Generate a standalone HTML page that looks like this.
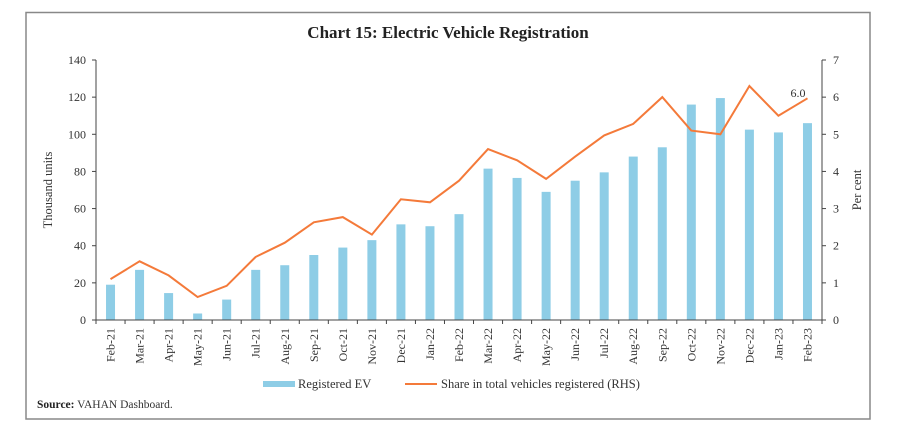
<!DOCTYPE html>
<html><head><meta charset="utf-8"><style>
body{margin:0;background:#fff;width:905px;height:439px;overflow:hidden}
svg text{font-family:"Liberation Serif",serif;fill:#333}
</style></head><body>
<svg id="s" width="905" height="439" xmlns="http://www.w3.org/2000/svg">
<rect x="26" y="12.5" width="844" height="406.5" fill="#fff" stroke="#888" stroke-width="1.5"/>
<text x="448" y="38" text-anchor="middle" font-size="17" font-weight="bold" style="fill:#222">Chart 15: Electric Vehicle Registration</text>
<text transform="translate(52,190) rotate(-90)" text-anchor="middle" font-size="12.5">Thousand units</text>
<text transform="translate(861,190) rotate(-90)" text-anchor="middle" font-size="12.5">Per cent</text>
<g id="g"></g>
<rect x="263" y="381" width="32" height="6" fill="#8ecde6"/>
<text x="298" y="388" font-size="12.5">Registered EV</text>
<line x1="405" y1="384" x2="437" y2="384" stroke="#f47a3a" stroke-width="2"/>
<text x="441" y="388" font-size="12.5">Share in total vehicles registered (RHS)</text>
<text x="37" y="408" font-size="11.5"><tspan font-weight="bold" style="fill:#222">Source:</tspan> VAHAN Dashboard.</text>
</svg>
<script>
var g=document.getElementById('g'),h='';
var L=96,R=822,T=60,B=320,n=25,w=(R-L)/n;
var bars=[19,27,14.5,3.5,11,27,29.5,35,39,43,51.5,50.5,57,81.5,76.5,69,75,79.5,88,93,116,119.5,102.5,101,106];
var line=[1.1,1.58,1.2,0.62,0.92,1.7,2.08,2.63,2.77,2.3,3.25,3.17,3.75,4.6,4.3,3.8,4.4,4.97,5.28,6.0,5.1,5.0,6.3,5.5,5.97];
var labs=['Feb-21','Mar-21','Apr-21','May-21','Jun-21','Jul-21','Aug-21','Sep-21','Oct-21','Nov-21','Dec-21','Jan-22','Feb-22','Mar-22','Apr-22','May-22','Jun-22','Jul-22','Aug-22','Sep-22','Oct-22','Nov-22','Dec-22','Jan-23','Feb-23'];
for(var i=0;i<n;i++){var cx=L+w*(i+0.5),bh=bars[i]/140*(B-T);
h+='<rect x="'+(cx-4.5)+'" y="'+(B-bh)+'" width="9" height="'+bh+'" fill="#8ecde6"/>';
h+='<text transform="translate('+(cx+4)+',328) rotate(-90)" text-anchor="end" font-size="12">'+labs[i]+'</text>';}
for(var i=0;i<=n;i++){var x=L+w*i;h+='<line x1="'+x+'" y1="'+B+'" x2="'+x+'" y2="'+(B+4)+'" stroke="#444"/>';}
h+='<line x1="'+L+'" y1="'+T+'" x2="'+L+'" y2="'+B+'" stroke="#444"/><line x1="'+R+'" y1="'+T+'" x2="'+R+'" y2="'+B+'" stroke="#444"/><line x1="'+L+'" y1="'+B+'" x2="'+R+'" y2="'+B+'" stroke="#444"/>';
for(var k=0;k<=7;k++){var y=B-k*(B-T)/7;
h+='<line x1="'+(L-4)+'" y1="'+y+'" x2="'+L+'" y2="'+y+'" stroke="#444"/><text x="'+(L-10)+'" y="'+(y+4)+'" text-anchor="end" font-size="12">'+(k*20)+'</text>';
h+='<line x1="'+R+'" y1="'+y+'" x2="'+(R+4)+'" y2="'+y+'" stroke="#444"/><text x="'+(R+11)+'" y="'+(y+4)+'" font-size="12">'+k+'</text>';}
var p=[];for(var i=0;i<n;i++)p.push((L+w*(i+0.5)).toFixed(1)+','+(B-line[i]/7*(B-T)).toFixed(1));
h+='<polyline points="'+p.join(' ')+'" fill="none" stroke="#f47a3a" stroke-width="2"/>';
h+='<text x="798" y="97" text-anchor="middle" font-size="12">6.0</text>';
g.innerHTML=h;
</script>
</body></html>
